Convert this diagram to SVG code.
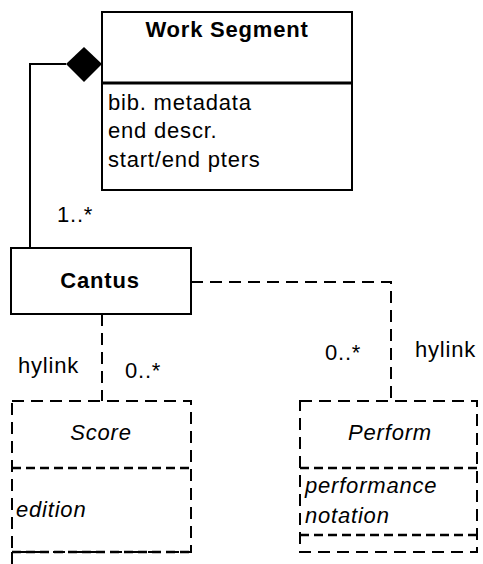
<svg xmlns="http://www.w3.org/2000/svg" width="483" height="564" viewBox="0 0 483 564">
<style>
.box{fill:#fff;stroke:#000;stroke-width:2}
.dbox{fill:#fff;stroke:#000;stroke-width:2;stroke-dasharray:12,7}
.line{fill:none;stroke:#000;stroke-width:2}
.dline{fill:none;stroke:#000;stroke-width:2;stroke-dasharray:12,7}
.div{fill:none;stroke:#000;stroke-width:2.5;stroke-dasharray:9,5}
.t{font-family:"Liberation Sans",Arial,sans-serif;font-size:22px;letter-spacing:0.8px;fill:#000}
.b{font-weight:bold}
.i{font-style:italic}
</style>
<rect width="483" height="564" fill="#fff"/>
<g id="connectors">
<polyline class="line" points="66,64 30,64 30,248"/>
<polygon points="84,47 102,64 84,82 66,64" fill="#000"/>
<polyline class="dline" points="191,282 391,282 391,401"/>
<line class="dline" x1="102" y1="314" x2="102" y2="401"/>
<text class="t" x="57" y="222">1..*</text>
<text class="t" x="18" y="373">hylink</text>
<text class="t" x="125" y="378">0..*</text>
<text class="t" x="325" y="360">0..*</text>
<text class="t" x="415" y="357">hylink</text>
</g>
<g id="work-segment">
<rect class="box" x="102" y="12" width="250" height="178"/>
<line x1="102" y1="83" x2="352" y2="83" stroke="#000" stroke-width="3"/>
<text class="t b" x="227" y="37" text-anchor="middle">Work Segment</text>
<text class="t" x="108" y="110">bib. metadata</text>
<text class="t" x="108" y="138">end descr.</text>
<text class="t" x="108" y="167">start/end pters</text>
</g>
<g id="cantus">
<rect class="box" x="11" y="248" width="180" height="66"/>
<text class="t b" x="100" y="288" text-anchor="middle">Cantus</text>
</g>
<g id="score">
<rect class="dbox" x="12" y="401" width="179" height="151"/>
<line class="div" x1="12" y1="468" x2="191" y2="468"/>
<line class="div" x1="12" y1="552" x2="191" y2="552"/>
<line class="dline" x1="12" y1="552" x2="12" y2="564"/>
<text class="t i" x="101" y="440" text-anchor="middle">Score</text>
<text class="t i" x="16" y="517">edition</text>
</g>
<g id="perform">
<rect class="dbox" x="300" y="401" width="177" height="151"/>
<line class="div" x1="300" y1="468" x2="477" y2="468"/>
<line class="div" x1="300" y1="535" x2="477" y2="535"/>
<text class="t i" x="390" y="440" text-anchor="middle">Perform</text>
<text class="t i" x="305" y="493">performance</text>
<text class="t i" x="305" y="523">notation</text>
</g>
</svg>
